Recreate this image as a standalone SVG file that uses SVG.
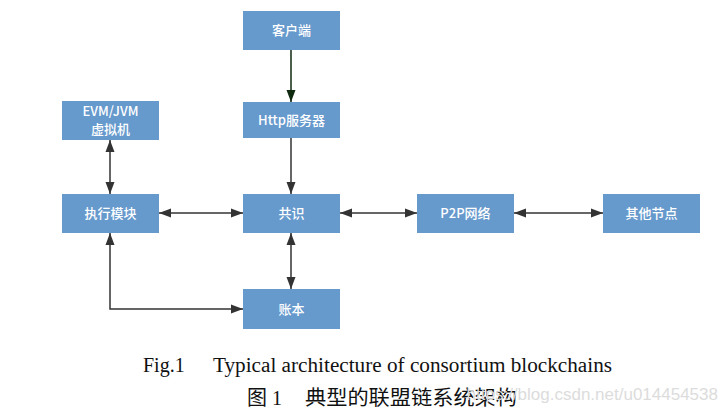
<svg xmlns="http://www.w3.org/2000/svg" width="727" height="414" viewBox="0 0 727 414">
<style>
.box{fill:#6699cc;}
.lbl{fill:#ffffff;font-family:"Noto Sans CJK SC","Liberation Sans",sans-serif;font-size:13px;font-weight:500;text-anchor:middle;}
.ln{fill:none;stroke:#333333;stroke-width:1.5;}
.cap{font-family:"Liberation Serif",serif;font-size:20px;fill:#111;}
.capc{font-family:"Liberation Serif","Noto Sans CJK SC",serif;font-size:20px;fill:#111;}
</style>
<defs>
<marker id="ah" markerUnits="userSpaceOnUse" markerWidth="12" markerHeight="10" refX="12" refY="5" orient="auto-start-reverse">
<path d="M0,0.5 L12,5 L0,9.5 z" fill="#333333"/>
</marker>
<marker id="ahg" markerUnits="userSpaceOnUse" markerWidth="12" markerHeight="10" refX="12" refY="5" orient="auto-start-reverse">
<path d="M0,0.5 L12,5 L0,9.5 z" fill="#0f2a0f"/>
</marker>
</defs>
<rect width="727" height="414" fill="#ffffff"/>
<g id="connectors">
<line x1="291" y1="50" x2="291" y2="102" stroke="#0f2a0f" stroke-width="1.5" marker-end="url(#ahg)"/>
<line class="ln" x1="291" y1="138" x2="291" y2="194" marker-end="url(#ah)"/>
<line class="ln" x1="110" y1="140" x2="110" y2="194" marker-start="url(#ah)" marker-end="url(#ah)"/>
<line class="ln" x1="159" y1="213" x2="243" y2="213" marker-start="url(#ah)" marker-end="url(#ah)"/>
<line class="ln" x1="340" y1="213" x2="417" y2="213" marker-start="url(#ah)" marker-end="url(#ah)"/>
<line class="ln" x1="514" y1="213" x2="603" y2="213" marker-start="url(#ah)" marker-end="url(#ah)"/>
<line class="ln" x1="291" y1="233" x2="291" y2="289" marker-start="url(#ah)" marker-end="url(#ah)"/>
<path class="ln" d="M110,233 V309 H243" marker-start="url(#ah)" marker-end="url(#ah)"/>
</g>
<g id="client"><rect class="box" x="243" y="11" width="97" height="39"/><text class="lbl" x="291.5" y="35">客户端</text></g>
<g id="http"><rect class="box" x="243" y="102" width="97" height="36"/><text class="lbl" x="291.5" y="125">Http服务器</text></g>
<g id="evm"><rect class="box" x="62" y="101" width="97" height="39"/><text class="lbl" x="110.5" y="115.5">EVM/JVM</text><text class="lbl" x="110.5" y="134">虚拟机</text></g>
<g id="exec"><rect class="box" x="62" y="194" width="97" height="39"/><text class="lbl" x="110.5" y="218">执行模块</text></g>
<g id="consensus"><rect class="box" x="243" y="194" width="97" height="39"/><text class="lbl" x="291.5" y="218">共识</text></g>
<g id="ledger"><rect class="box" x="243" y="289" width="97" height="40"/><text class="lbl" x="291.5" y="314">账本</text></g>
<g id="p2p"><rect class="box" x="417" y="194" width="97" height="39"/><text class="lbl" x="465.5" y="218">P2P网络</text></g>
<g id="others"><rect class="box" x="603" y="194" width="97" height="39"/><text class="lbl" x="651.5" y="218">其他节点</text></g>
<text class="cap" x="143" y="372">Fig.1</text>
<text class="cap" x="213" y="372" textLength="399" lengthAdjust="spacingAndGlyphs">Typical architecture of consortium blockchains</text>
<text class="capc" x="247" y="405">图 1</text>
<text class="capc" x="305" y="405" textLength="212" lengthAdjust="spacingAndGlyphs">典型的联盟链系统架构</text>
<text x="718" y="400" font-family="Liberation Sans,sans-serif" font-size="17" fill="#dcdcdc" text-anchor="end">https://blog.csdn.net/u014454538</text>
</svg>
